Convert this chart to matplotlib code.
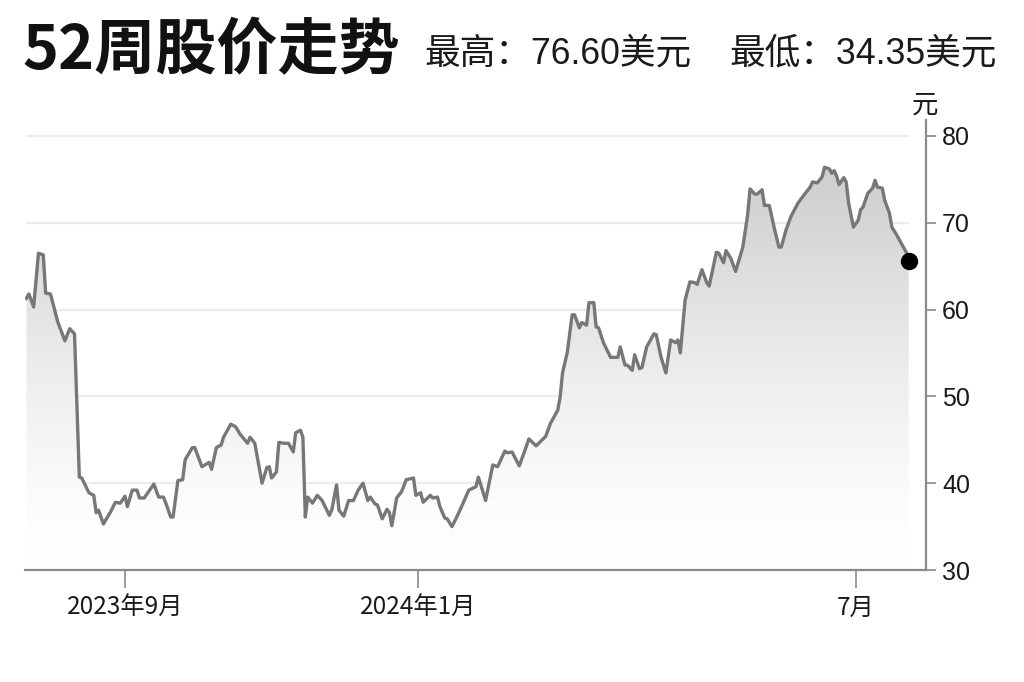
import numpy as np
import pandas as pd
import matplotlib
matplotlib.use("Agg")
import matplotlib.pyplot as plt
import matplotlib.dates as mdates
from matplotlib.colors import LinearSegmentedColormap
from matplotlib.patches import Polygon

plt.rcParams["font.family"] = ["Noto Sans CJK SC", "DejaVu Sans"]

# =========================
# data
# =========================
BASE_DATE = pd.Timestamp("2023-09-01")

# days after 2023-09-01
day_offset = [
    -41, -40, -38, -36, -34, -33, -31, -29, -28, -25, -23, -21, -19, -18,
    -15, -13, -12, -11, -9, -6, -4, -2, 0, 1, 3, 5, 6, 8, 12, 14, 16, 17,
    19, 20, 22, 24, 25, 28, 29, 32, 35, 36, 38, 40, 41, 42, 44, 46, 48, 51,
    52, 54, 57, 59, 60, 61, 63, 64, 66, 68, 70, 71, 73, 74, 75, 76, 78, 80,
    82, 85, 86, 88, 89, 91, 93, 95, 97, 99, 101, 102, 104, 105, 107, 109,
    110, 111, 113, 115, 117, 120, 121, 123, 124, 127, 128, 130, 131, 133,
    134, 136, 138, 140, 143, 146, 147, 149, 150, 153, 155, 158, 159, 161,
    164, 166, 168, 171, 175, 177, 180, 181, 182, 184, 186, 187, 189, 190,
    192, 193, 195, 196, 197, 199, 202, 205, 206, 208, 209, 211, 212, 214,
    215, 217, 220, 221, 223, 225, 227, 229, 230, 231, 233, 235, 237, 238,
    240, 242, 243, 246, 247, 249, 250, 252, 254, 257, 259, 260, 262, 263,
    265, 266, 268, 270, 272, 273, 275, 277, 280, 283, 285, 286, 288, 290,
    291, 293, 294, 295, 296, 297, 299, 300, 301, 303, 305, 306, 307, 309,
    311, 312, 313, 315, 316, 318, 319, 321, 323, 325, 326,
]

price = [
    61.3, 61.8, 60.3, 66.5, 66.3, 61.9, 61.8, 59.7, 58.6, 56.4, 57.8, 57.2, 40.7, 40.6,
    38.9, 38.6, 36.6, 36.9, 35.3, 36.7, 37.8, 37.7, 38.5, 37.3, 39.2, 39.2, 38.3, 38.3, 39.9, 38.4, 38.4, 37.7,
    36.1, 36.1, 40.3, 40.4, 42.7, 44.1, 44.1, 41.9, 42.4, 41.6, 44.1, 44.4, 45.3, 45.8, 46.8, 46.5, 45.6, 44.6,
    45.3, 44.6, 40.0, 41.8, 41.9, 40.6, 41.3, 44.7, 44.6, 44.6, 43.6, 45.8, 46.1, 45.3, 36.1, 38.4, 37.7, 38.6,
    38.0, 36.3, 36.9, 39.8, 36.9, 36.2, 38.0, 38.0, 39.2, 40.0, 38.0, 38.4, 37.6, 37.5, 35.9, 37.0,
    36.6, 35.1, 38.3, 39.0, 40.4, 40.6, 38.6, 38.9, 37.8, 38.6, 38.3, 38.4, 37.3, 36.0,
    35.9, 35.0, 36.1, 37.3, 39.2, 39.6, 40.7, 38.9, 38.0, 42.1, 41.9, 43.7, 43.5, 43.6,
    42.0, 43.5, 45.1, 44.3, 45.4, 46.9, 48.4, 49.9, 52.7, 55.1, 59.4, 59.4, 57.9, 58.5,
    58.2, 60.8, 60.8, 58.0, 57.9, 56.2, 54.5, 54.5, 55.7, 53.6, 53.6, 53.0, 54.8, 53.2,
    53.3, 55.7, 57.2, 57.1, 54.5, 52.7, 56.5, 56.2, 56.5, 55.0, 61.1, 63.2, 63.1, 62.9,
    64.6, 63.1, 62.7, 66.6, 66.5, 65.4, 66.8, 65.9, 64.4, 67.2, 70.9, 73.9, 73.3, 73.3,
    73.8, 72.0, 72.0, 69.5, 67.2, 67.2, 69.2, 70.7, 72.3, 73.4, 74.1, 74.7, 74.6, 75.3,
    76.4, 76.2, 75.7, 76.0, 75.4, 74.4, 75.2, 74.7, 72.3, 69.5, 70.3, 71.5, 71.8, 73.4,
    74.0, 74.9, 74.1, 74.0, 72.6, 71.1, 69.5, 68.6, 67.6, 66.6, 65.6,
]

tick_dates = ["2023-09-01", "2024-01-01", "2024-07-01"]
tick_labels = ["2023年9月", "2024年1月", "7月"]
y_ticks = [30, 40, 50, 60, 70, 80]
grid_levels = [40, 50, 60, 70, 80]

title = "52周股价走势"
high_text = "最高：76.60美元"
low_text = "最低：34.35美元"
unit_text = "元"

LATIN_CJK = ["Liberation Sans", "Noto Sans CJK SC", "DejaVu Sans"]

# =========================
# plotting
# =========================
W, H = 1024, 682
fig = plt.figure(figsize=(W / 100, H / 100), dpi=100)
fig.patch.set_facecolor("white")
ax = fig.add_axes([25 / W, 1 - 570 / H, (926 - 25) / W, (570 - 120) / H])

dates = BASE_DATE + pd.to_timedelta(day_offset, unit="D")
x = mdates.date2num(dates.to_pydatetime())
y = np.array(price)

x_left = mdates.date2num((BASE_DATE - pd.Timedelta(days=41.6)).to_pydatetime())
x_right = mdates.date2num((BASE_DATE + pd.Timedelta(days=333.2)).to_pydatetime())
ax.set_xlim(x_left, x_right)
ax.set_ylim(30, 81.84)

# grid (only across the data span)
ax.hlines(grid_levels, x[0], x[-1], color="#ececec", linewidth=1.6, zorder=0)

# gradient fill below the line (fades to white towards the bottom)
cmap = LinearSegmentedColormap.from_list(
    "fade",
    [(0.0, "#ffffff"), (0.16, "#fcfcfc"), (0.4, "#f0f0f0"),
     (0.6, "#e4e4e4"), (0.8, "#d6d6d6"), (1.0, "#cacaca")],
)
grad = np.linspace(0, 1, 256).reshape(-1, 1)
im = ax.imshow(grad, extent=[x[0], x[-1], 30, 80], origin="lower",
               aspect="auto", cmap=cmap, zorder=1, interpolation="bicubic")
verts = np.column_stack([np.r_[x[0], x, x[-1]], np.r_[30, y, 30]])
poly = Polygon(verts, closed=True, facecolor="none", edgecolor="none")
ax.add_patch(poly)
im.set_clip_path(poly)

ax.plot(x, y, color="#777777", linewidth=2.4, solid_joinstyle="round", zorder=3)
ax.plot(x[-1], y[-1], "o", color="black", markersize=11.5, zorder=4)

# axes styling
for side in ["left", "top"]:
    ax.spines[side].set_visible(False)
for side in ["right", "bottom"]:
    ax.spines[side].set_color("#8a8a8a")
    ax.spines[side].set_linewidth(1.6)

ax.yaxis.tick_right()
ax.set_yticks(y_ticks)
ax.tick_params(axis="y", left=False, right=True, length=7.5, width=1.2,
               color="#8a8a8a", pad=4, labelsize=18, labelcolor="#1a1a1a")
for lab in ax.get_yticklabels():
    lab.set_family(LATIN_CJK)

ax.set_xticks(mdates.date2num(pd.to_datetime(tick_dates).to_pydatetime()))
ax.set_xticklabels(tick_labels)
ax.tick_params(axis="x", length=13, width=1.2, color="#8a8a8a", pad=5,
               labelsize=17.5, labelcolor="#1a1a1a")

# texts
fig.text(925 / W, 1 - 105 / H, unit_text, ha="center", va="center",
         fontsize=19, color="#1a1a1a")
fig.text(22 / W, 1 - 51 / H, title, ha="left", va="center",
         fontsize=44, fontweight="bold", color="#111111")
fig.text(424 / W, 1 - 54 / H, high_text, ha="left", va="center",
         fontsize=25.7, color="#1a1a1a", family=LATIN_CJK)
fig.text(729 / W, 1 - 54 / H, low_text, ha="left", va="center",
         fontsize=25.7, color="#1a1a1a", family=LATIN_CJK)

fig.savefig("out.png", dpi=100)
plt.close(fig)
